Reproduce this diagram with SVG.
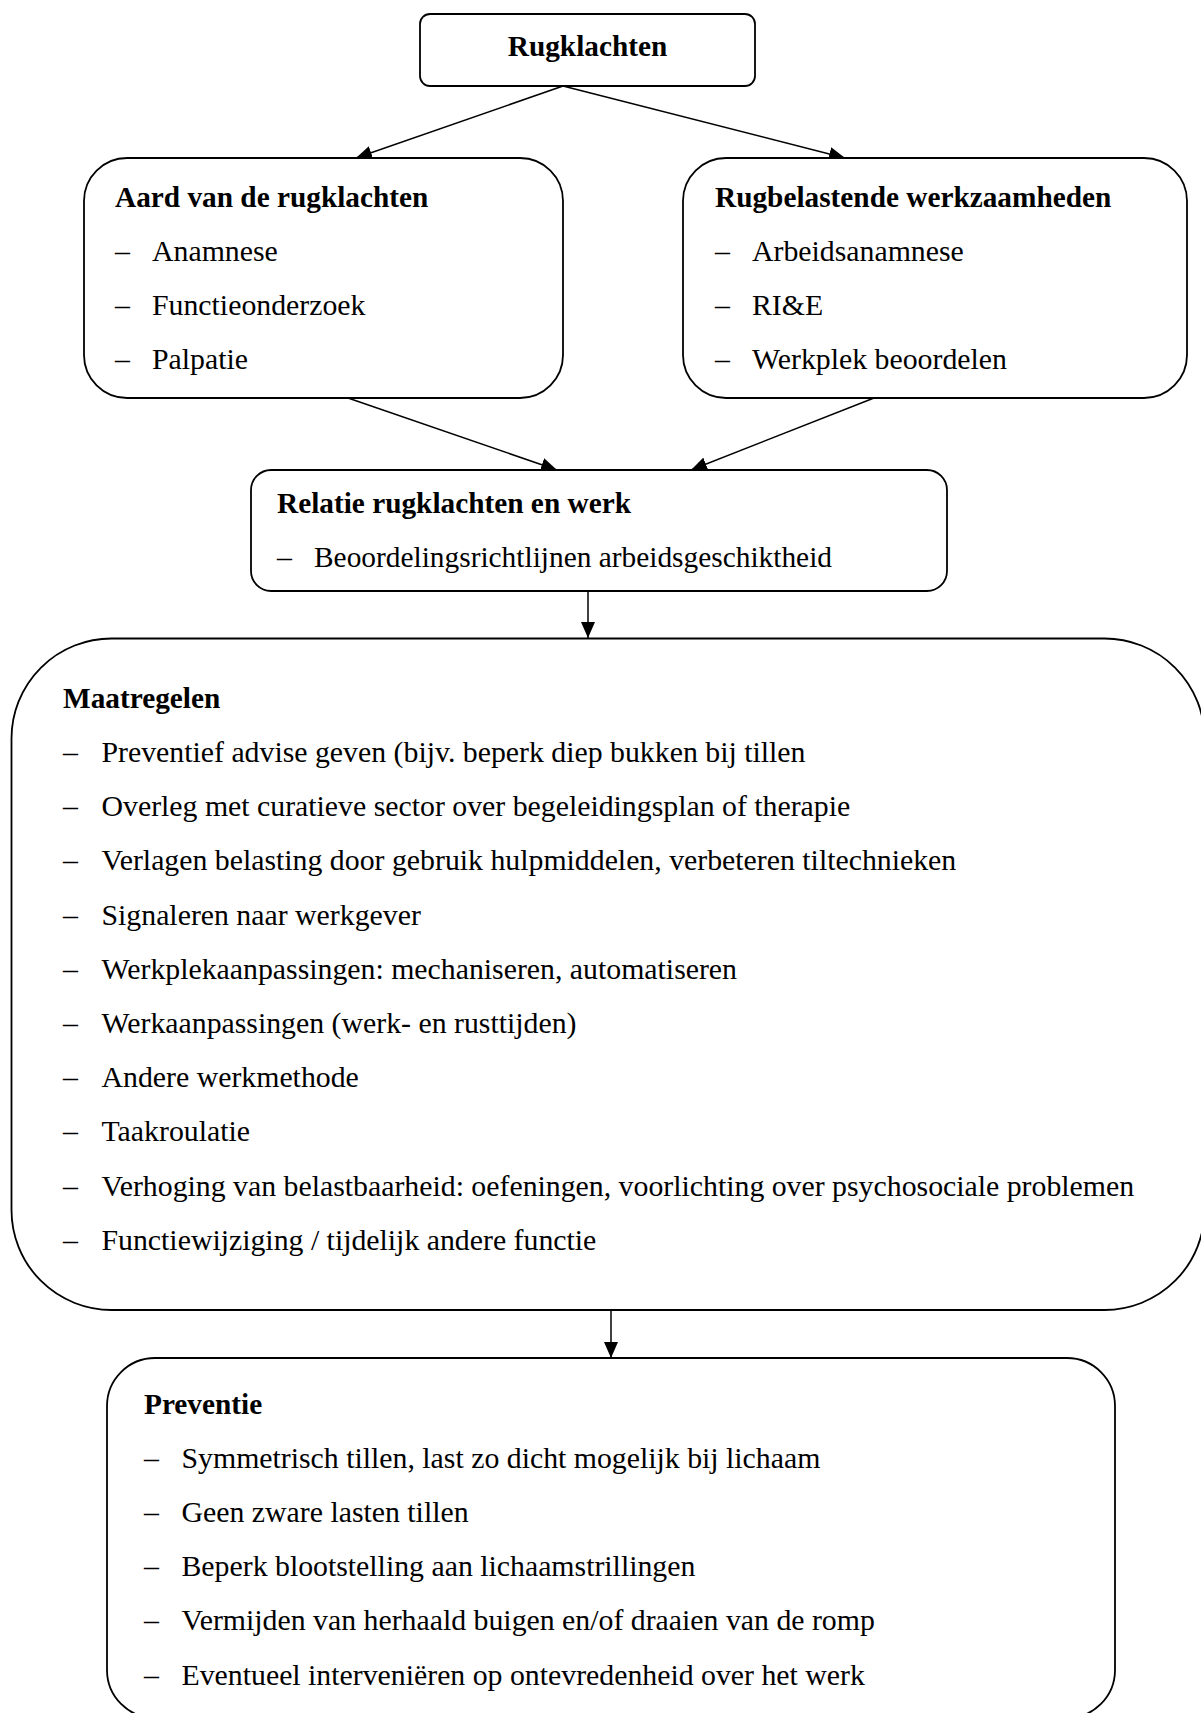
<svg xmlns="http://www.w3.org/2000/svg" width="1201" height="1713" viewBox="0 0 1201 1713">
<style>
.box{fill:#fff;stroke:#000;stroke-width:1.8}
.t{font-family:"Liberation Serif","Times New Roman",serif;font-size:29.8px;fill:#000}
.b{font-weight:bold;font-size:29.3px}
.c{stroke:#000;stroke-width:1.5;fill:none}
</style>
<defs>
<marker id="ah" markerUnits="userSpaceOnUse" markerWidth="17" markerHeight="14" refX="16" refY="7" orient="auto">
<path d="M0,0 L16,7 L0,14 z" fill="#000"/>
</marker>
</defs>
<rect width="1201" height="1713" fill="#fff"/>
<g id="connectors">
<line class="c" x1="563" y1="86" x2="356" y2="158" marker-end="url(#ah)"/>
<line class="c" x1="563" y1="86" x2="845" y2="158" marker-end="url(#ah)"/>
<line class="c" x1="348" y1="398" x2="557" y2="470" marker-end="url(#ah)"/>
<line class="c" x1="874" y1="398" x2="691" y2="470" marker-end="url(#ah)"/>
<line class="c" x1="588" y1="591" x2="588" y2="638" marker-end="url(#ah)"/>
<line class="c" x1="611" y1="1310" x2="611" y2="1358" marker-end="url(#ah)"/>
</g>
<g id="rugklachten">
<rect class="box" x="420" y="14" width="335" height="72" rx="10"/>
<text class="t b" x="587.5" y="56" text-anchor="middle">Rugklachten</text>
</g>
<g id="aard">
<rect class="box" x="84" y="158" width="479" height="240" rx="43"/>
<text class="t b" x="115" y="207">Aard van de rugklachten</text>
<text class="t" x="115" y="261">–</text><text class="t" x="152" y="261">Anamnese</text>
<text class="t" x="115" y="315">–</text><text class="t" x="152" y="315">Functieonderzoek</text>
<text class="t" x="115" y="369">–</text><text class="t" x="152" y="369">Palpatie</text>
</g>
<g id="rugbelastend">
<rect class="box" x="683" y="158" width="504" height="240" rx="43"/>
<text class="t b" x="715" y="207">Rugbelastende werkzaamheden</text>
<text class="t" x="715" y="261">–</text><text class="t" x="752" y="261">Arbeidsanamnese</text>
<text class="t" x="715" y="315">–</text><text class="t" x="752" y="315">RI&amp;E</text>
<text class="t" x="715" y="369">–</text><text class="t" x="752" y="369">Werkplek beoordelen</text>
</g>
<g id="relatie">
<rect class="box" x="251" y="470" width="696" height="121" rx="20"/>
<text class="t b" x="277" y="513">Relatie rugklachten en werk</text>
<text class="t" x="277" y="567">–</text><text class="t" x="314" y="567" textLength="518" lengthAdjust="spacingAndGlyphs">Beoordelingsrichtlijnen arbeidsgeschiktheid</text>
</g>
<g id="maatregelen">
<rect class="box" x="11.5" y="638.5" width="1193" height="671.5" rx="100"/>
<text class="t b" x="63" y="708">Maatregelen</text>
<text class="t" x="63" y="762">–</text><text class="t" x="101.5" y="762">Preventief advise geven (bijv. beperk diep bukken bij tillen</text>
<text class="t" x="63" y="816">–</text><text class="t" x="101.5" y="816">Overleg met curatieve sector over begeleidingsplan of therapie</text>
<text class="t" x="63" y="870">–</text><text class="t" x="101.5" y="870">Verlagen belasting door gebruik hulpmiddelen, verbeteren tiltechnieken</text>
<text class="t" x="63" y="924.5">–</text><text class="t" x="101.5" y="924.5">Signaleren naar werkgever</text>
<text class="t" x="63" y="979">–</text><text class="t" x="101.5" y="979">Werkplekaanpassingen: mechaniseren, automatiseren</text>
<text class="t" x="63" y="1033">–</text><text class="t" x="101.5" y="1033">Werkaanpassingen (werk- en rusttijden)</text>
<text class="t" x="63" y="1087">–</text><text class="t" x="101.5" y="1087">Andere werkmethode</text>
<text class="t" x="63" y="1141">–</text><text class="t" x="101.5" y="1141">Taakroulatie</text>
<text class="t" x="63" y="1195.5">–</text><text class="t" x="101.5" y="1195.5">Verhoging van belastbaarheid: oefeningen, voorlichting over psychosociale problemen</text>
<text class="t" x="63" y="1250">–</text><text class="t" x="101.5" y="1250">Functiewijziging / tijdelijk andere functie</text>
</g>
<g id="preventie">
<rect class="box" x="107" y="1358" width="1008" height="360" rx="48"/>
<text class="t b" x="144" y="1414">Preventie</text>
<text class="t" x="144" y="1468">–</text><text class="t" x="181.5" y="1468">Symmetrisch tillen, last zo dicht mogelijk bij lichaam</text>
<text class="t" x="144" y="1522">–</text><text class="t" x="181.5" y="1522">Geen zware lasten tillen</text>
<text class="t" x="144" y="1576">–</text><text class="t" x="181.5" y="1576">Beperk blootstelling aan lichaamstrillingen</text>
<text class="t" x="144" y="1630">–</text><text class="t" x="181.5" y="1630">Vermijden van herhaald buigen en/of draaien van de romp</text>
<text class="t" x="144" y="1685">–</text><text class="t" x="181.5" y="1685">Eventueel interveniëren op ontevredenheid over het werk</text>
</g>
</svg>
